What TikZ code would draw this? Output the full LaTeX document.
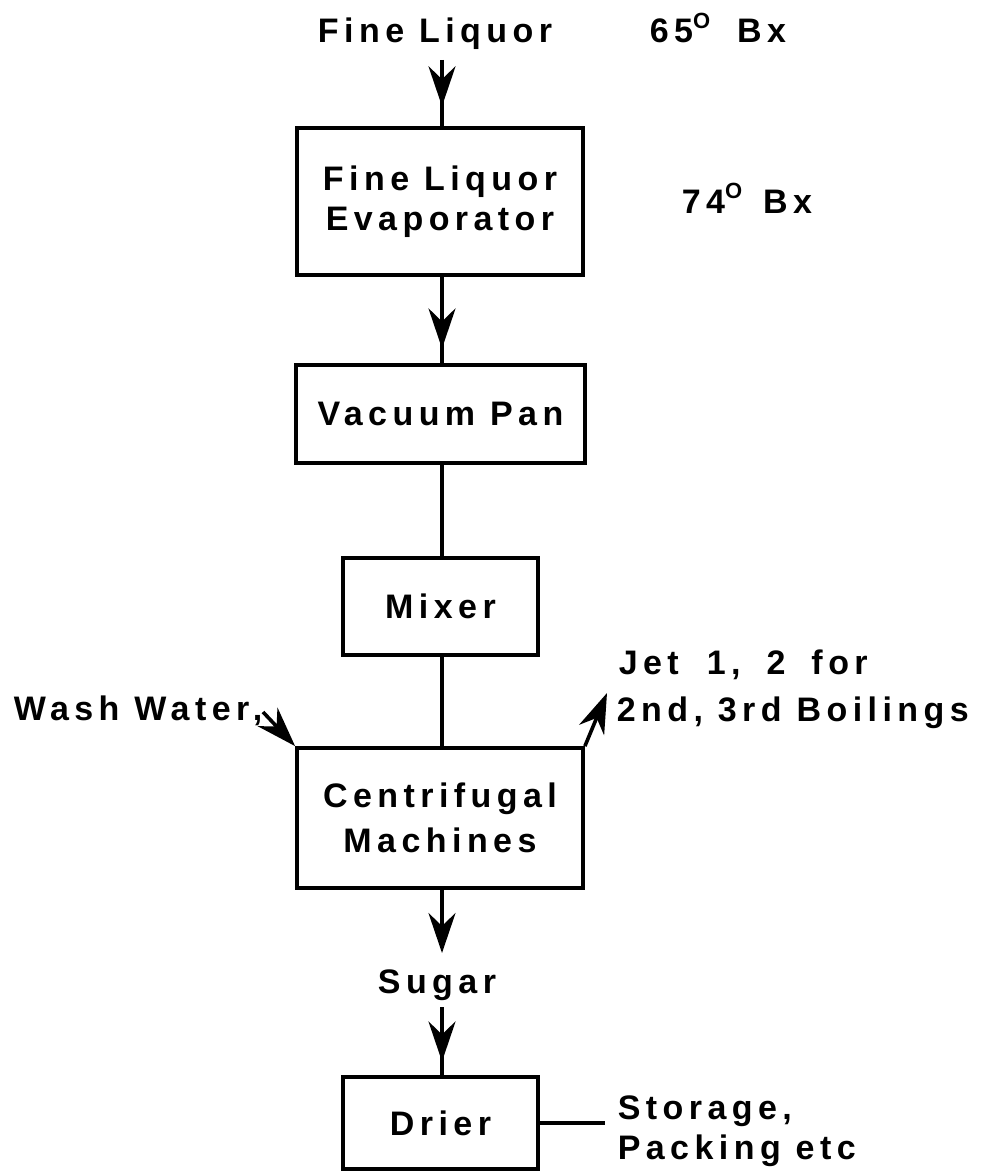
\documentclass[tikz,border=0pt]{standalone}
\usepackage{fontspec}
\setmainfont{Liberation Sans}[LetterSpace=16]
\usetikzlibrary{arrows.meta,decorations.markings}
\newcommand{\degO}{\raisebox{0.42em}{\fontsize{22}{22}\selectfont O}}
\begin{document}
\begin{tikzpicture}[x=1pt,y=-1pt,
  font=\fontsize{34}{40}\selectfont\bfseries,
  line width=3.6pt,
  box/.style={draw,line width=3.8pt,inner sep=0pt,align=center},
  lbl/.style={inner sep=0pt,align=left},
  head/.tip={Stealth[length=40pt,width=27pt,inset=13pt]},
  midarrow/.style={postaction={decorate},decoration={markings,mark=at position #1 with {\arrow{head}}}}]
\useasboundingbox (0,0) rectangle (982,1172);
% text labels
\node[lbl,anchor=base] (fl) at (435,43) {Fine Liquor};
\node[lbl,anchor=base west] (bx1) at (648,43) {65\degO\hspace{12pt} Bx};
\node[lbl,anchor=base west] (bx2) at (680,213) {74\degO\hspace{6pt} Bx};
\node[lbl,anchor=base west] (ww) at (12,720) {Wash Water,};
\node[lbl,anchor=base west] (jet) at (615,721) {\hspace*{2pt}Jet\hspace{28pt}1,\hspace{26pt}2\hspace{26pt}for\\[7pt]2nd, 3rd Boilings};
\node[lbl,anchor=base] (sug) at (437,993) {Sugar};
\node[lbl,anchor=base west] (st) at (616,1159) {Storage,\\Packing etc};
% boxes
\node[box,minimum width=286pt,minimum height=147pt] (b1) at (440,201.5) {Fine Liquor\\Evaporator};
\node[box,minimum width=289pt,minimum height=98pt] (b2) at (440.5,414) {Vacuum Pan};
\node[box,minimum width=195pt,minimum height=97pt] (b3) at (440.5,606.5) {Mixer};
\node[box,minimum width=286pt,minimum height=140pt] (b4) at (440,818) {Centrifugal\\[5pt]Machines};
\node[box,minimum width=195pt,minimum height=92pt] (b5) at (440.5,1123) {Drier};
% coordinates
\coordinate (flbot) at (442,60);
\coordinate (wws) at (263,712);
\coordinate (jete) at (607,693);
\coordinate (sugtop) at (442,953);
\coordinate (sugbot) at (442,1007);
% connectors
\draw[midarrow=0.70] (flbot) -- (flbot |- b1.north);
\draw[midarrow=0.83] (b1.south -| flbot) -- (b2.north -| flbot);
\draw (b2.south -| flbot) -- (b3.north -| flbot);
\draw (b3.south -| flbot) -- (b4.north -| flbot);
\draw[-{head}] (wws) -- (b4.north west);
\draw[-{head}] (b4.north east) -- (jete);
\draw[-{head}] (b4.south -| flbot) -- (sugtop);
\draw[midarrow=0.80] (sugbot) -- (sugbot |- b5.north);
\draw (b5.east) -- ++(65,0) coordinate (stl);
\end{tikzpicture}
\end{document}
